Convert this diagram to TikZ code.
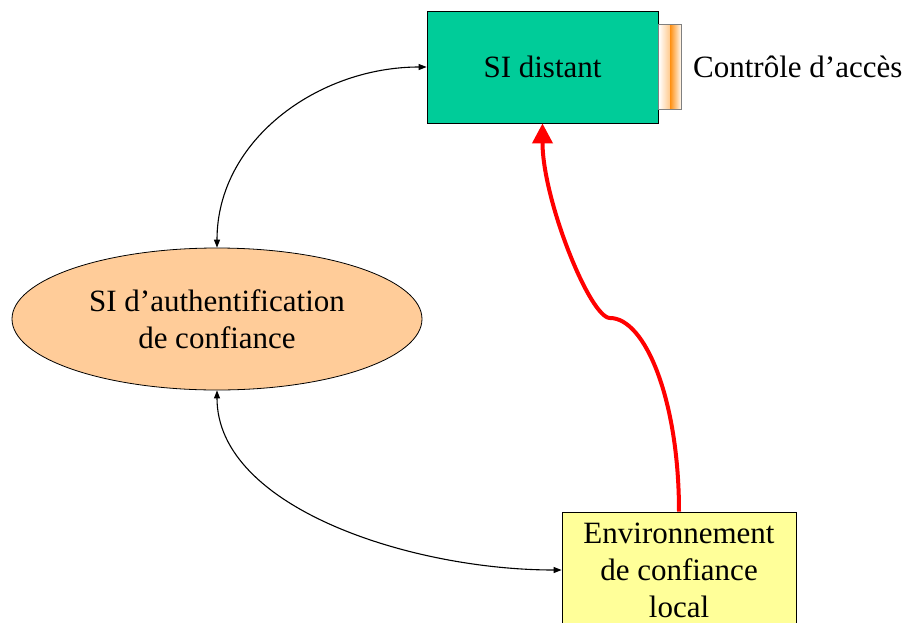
\documentclass[tikz,border=0pt]{standalone}
\usepackage{fontspec}
\setmainfont{Liberation Serif}
\usetikzlibrary{arrows.meta,shapes.geometric}

\definecolor{sigreen}{RGB}{0,204,153}
\definecolor{authorange}{RGB}{255,204,153}
\definecolor{envyellow}{RGB}{255,255,153}
\definecolor{gateorange}{RGB}{255,145,20}

\begin{document}
\begin{tikzpicture}[x=1pt,y=-1pt,
    txt/.style={font=\fontsize{31}{37}\selectfont, align=center},
    sibox/.style={txt, draw, line width=0.8pt, inner sep=0pt},
    gate/.style={draw=gray, line width=0.6pt, inner sep=0pt, minimum width=23pt, minimum height=85pt,
      path picture={
        \shade[left color=white, right color=gateorange]
          (path picture bounding box.north west) rectangle (path picture bounding box.south);
        \shade[left color=gateorange, right color=white]
          (path picture bounding box.north) rectangle (path picture bounding box.south east);}},
    link/.style={line width=1.1pt, {Triangle[length=8pt,width=6pt]}-{Triangle[length=8pt,width=6pt]}},
    trust/.style={red, line width=4pt, -{Triangle[length=20pt,width=20pt]}}]
    \clip (0,0) rectangle (906,622);

    \node[sibox, fill=sigreen, minimum width=231pt, minimum height=112pt] (distant) at (542.5,67) {SI distant};
    \node[gate, anchor=west] (acces) at (distant.east) {};
    \node[txt, anchor=west, inner sep=3pt] (accestxt) at ([xshift=8pt]acces.east) {Contrôle d’accès};

    \node[sibox, ellipse, fill=authorange, minimum width=410pt, minimum height=142pt] (auth) at (217,319)
      {SI d’authentification\\de confiance};

    \node[sibox, fill=envyellow, minimum width=234pt, minimum height=116pt] (env) at (679,570)
      {Environnement\\de confiance\\local};

    \draw[link] (auth.north) .. controls +(0,-108) and +(-108,0) .. (distant.west);
    \draw[link] (auth.south) .. controls +(0,117) and +(-151,0) .. (env.west);

    \coordinate (bend) at (610,318);
    \draw[trust] (env.north) .. controls +(0,-112) and +(35,0) .. (bend)
      .. controls +(-20,0) and +(0,76) .. (distant.south);
\end{tikzpicture}
\end{document}
